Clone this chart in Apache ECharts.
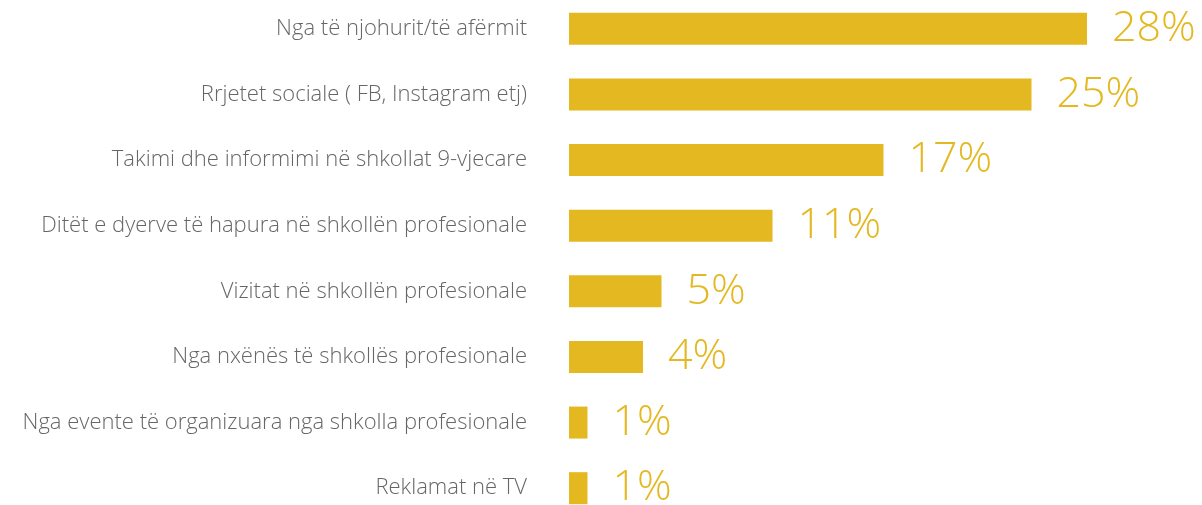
<!DOCTYPE html>
<html>
<head>
<meta charset="utf-8">
<script src="https://cdn.jsdelivr.net/npm/echarts@6/dist/echarts.min.js"></script>
<style>
  html, body { margin: 0; padding: 0; background: #fff; }
  #chart { width: 1202px; height: 505px; }
</style>
</head>
<body>
<div id="chart"></div>
<script>
  // burimet e informimit, nga lart poshte
  var categories = [
    'Nga të njohurit/të afërmit',
    'Rrjetet sociale ( FB, Instagram etj)',
    'Takimi dhe informimi në shkollat 9-vjecare',
    'Ditët e dyerve të hapura në shkollën profesionale',
    'Vizitat në shkollën profesionale',
    'Nga nxënës të shkollës profesionale',
    'Nga evente të organizuara nga shkolla profesionale',
    'Reklamat në TV'
  ];
  var values = [28, 25, 17, 11, 5, 4, 1, 1];

  var gold = '#E4B820';
  var chart = echarts.init(document.getElementById('chart'));

  chart.setOption({
    animation: false,
    grid: { left: 569, top: -4, height: 525, width: 555, outerBoundsMode: 'none' },
    xAxis: {
      type: 'value',
      min: 0,
      max: 30,
      show: false
    },
    yAxis: {
      type: 'category',
      data: categories,
      inverse: true,
      axisLine: { show: false },
      axisTick: { show: false },
      axisLabel: {
        margin: 42,
        fontSize: 22,
        color: '#666',
        fontFamily: 'Open Sans',
        fontWeight: 300
      }
    },
    series: [{
      type: 'bar',
      data: values,
      barWidth: 32,
      itemStyle: { color: gold },
      label: {
        show: true,
        position: 'right',
        distance: 25,
        formatter: '{c}%',
        fontSize: 43,
        color: gold,
        fontFamily: 'Open Sans',
        fontWeight: 300
      }
    }]
  });
</script>
</body>
</html>
